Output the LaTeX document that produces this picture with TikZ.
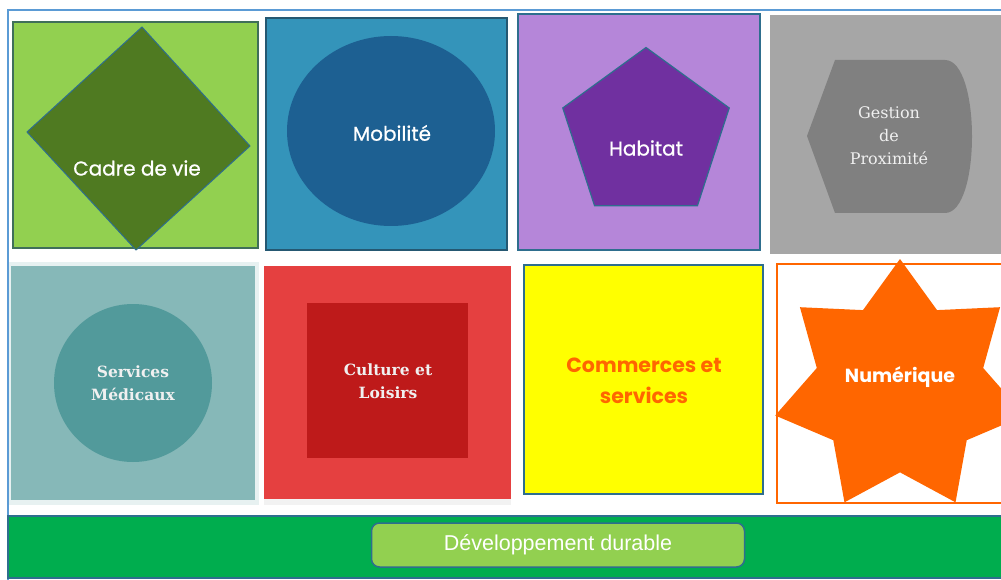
\documentclass[tikz,border=0pt]{standalone}
\usepackage{fontspec}
\newfontfamily\geofont[FakeBold=0.8]{Poppins}
\newfontfamily\geoboldfont{Poppins}
\newfontfamily\serfont{DejaVu Serif}
\newfontfamily\arialfont{Liberation Sans}
\usetikzlibrary{shapes.geometric,positioning}

\definecolor{rahmenblau}{HTML}{5B9BD5}
\definecolor{randblau}{HTML}{2E6E8E}
\definecolor{randgruen}{HTML}{3F6F5A}
\definecolor{hellgruen}{HTML}{92D050}
\definecolor{olivgruen}{HTML}{4F7A21}
\definecolor{mobhell}{HTML}{3494BA}
\definecolor{mobdunkel}{HTML}{1D6092}
\definecolor{lilahell}{HTML}{B586D9}
\definecolor{lila}{HTML}{7030A0}
\definecolor{grauhell}{HTML}{A6A6A6}
\definecolor{graudunkel}{HTML}{808080}
\definecolor{tuerkishell}{HTML}{86B8B8}
\definecolor{tuerkis}{HTML}{529A9B}
\definecolor{rothell}{HTML}{E54040}
\definecolor{rotdunkel}{HTML}{BE1A1A}
\definecolor{signalgelb}{HTML}{FFFF00}
\definecolor{signalorange}{HTML}{FF6600}
\definecolor{bandgruen}{HTML}{00AD4E}

\tikzset{
  kachel/.style={line width=1.2pt},
  geotext/.style={text=white, font=\geofont\fontsize{20}{24}\selectfont, inner sep=0pt},
  geobold/.style={font=\geoboldfont\bfseries\fontsize{19}{31}\selectfont, inner sep=0pt, align=center},
  sertext/.style={text=white!94!black, font=\serfont\fontsize{16}{23}\selectfont, inner sep=0pt, align=center},
  serbold/.style={sertext, font=\serfont\bfseries\fontsize{15.5}{23}\selectfont},
  knopf/.style={draw=randblau, fill=hellgruen, line width=1.5pt, rounded corners=8pt,
    minimum width=373pt, minimum height=44pt, text=white,
    font=\arialfont\fontsize{21.5}{24}\selectfont}
}

\begin{document}
\begin{tikzpicture}[x=1pt,y=-1pt]
  \useasboundingbox (0,0) rectangle (1001,580);
  \clip (0,0) rectangle (1001,580);
  % Rahmen
  \draw[rahmenblau, line width=2pt] (8,582) -- (8,10) -- (1003,10);
  % obere Reihe
  \filldraw[kachel, fill=hellgruen, draw=randgruen] (13,22) rectangle (258,248);
  \filldraw[fill=olivgruen, draw=randblau, line width=1pt] (142,27) -- (250,146) -- (136,250) -- (27,132) -- cycle;
  \node[geotext] (cadre) at (137,168) {Cadre de vie};

  \filldraw[kachel, fill=mobhell, draw=randblau!80!black] (266,18) rectangle (507,250);
  \node[ellipse, fill=mobdunkel, minimum width=208pt, minimum height=190pt, inner sep=0pt] (mobform) at (391,131) {};
  \node[geotext] (mobil) at (392,133) {Mobilité};

  \filldraw[kachel, fill=lilahell, draw=randblau] (518,14) rectangle (760,250);
  \node[regular polygon, regular polygon sides=5, minimum size=175pt, inner sep=0pt,
    fill=lila, draw=randblau, line width=1.2pt] (habform) at (646,135) {};
  \node[geotext] (habitat) at (646,148) {Habitat};

  \fill[grauhell] (770,15) rectangle (1005,254);
  \fill[graudunkel] (807,136) -- (835,60) -- (945,60) .. controls (981,60) and (981,213) .. (945,213) -- (835,213) -- cycle;
  \node[sertext] (gestion) at (889,136) {Gestion\\de\\Proximité};

  % untere Reihe
  \fill[tuerkishell!20!white] (9,262) rectangle (259,505);
  \fill[tuerkishell] (11,266) rectangle (255,500);
  \node[circle, fill=tuerkis, minimum size=158pt, inner sep=0pt] (medform) at (133,383) {};
  \node[serbold] (medic) at (133,383) {Services\\Médicaux};

  \fill[black!5] (264,266) rectangle (511,505);
  \fill[rothell] (264,266) rectangle (511,499);
  \fill[rotdunkel] (307,303) rectangle (468,458);
  \node[serbold] (culture) at (388,381) {Culture et\\Loisirs};

  \filldraw[kachel, fill=signalgelb, draw=randblau] (524,265) rectangle (763,494);
  \node[geobold, text=signalorange, font=\geoboldfont\bfseries\fontsize{20.5}{31}\selectfont] (commerce) at (644,381) {Commerces et\\services};

  \filldraw[kachel, fill=white, draw=signalorange] (777,264) rectangle (1010,503);
  \node[star, star points=7, star point ratio=1.5, minimum size=256pt, inner sep=0pt,
    fill=signalorange] (numform) at (900,387) {};
  \node[geobold, text=white] (numer) at (900,377) {Numérique};

  % Band unten
  \filldraw[fill=bandgruen, draw=randblau, line width=1.5pt] (8,516) rectangle (1010,578);
  \node[knopf] (durable) at (558,545) {Développement durable};
\end{tikzpicture}
\end{document}
